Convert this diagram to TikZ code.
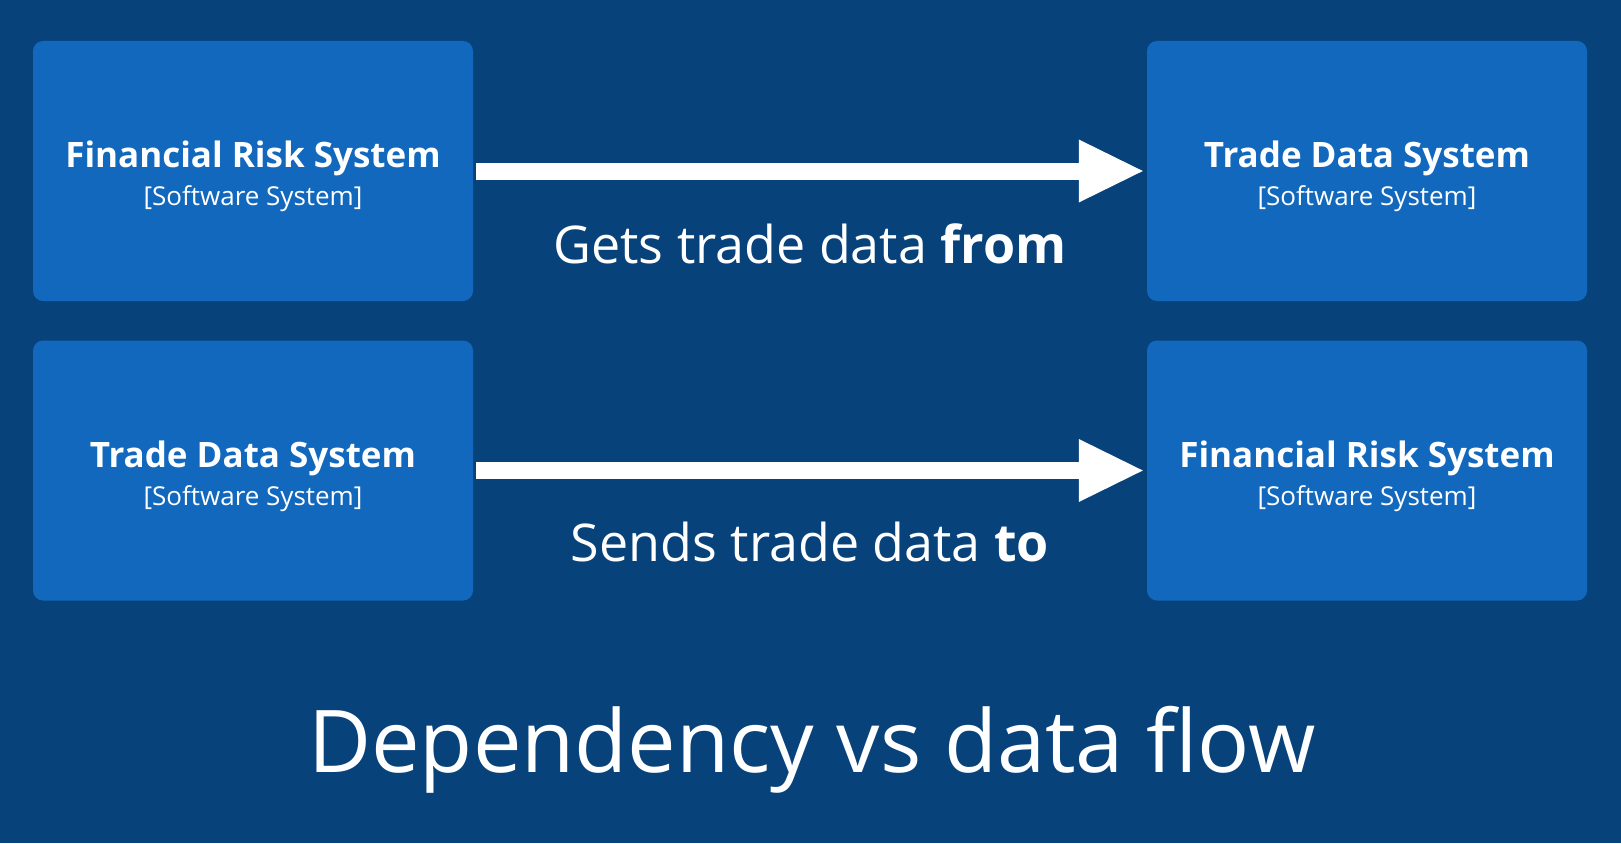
\documentclass[tikz,border=0pt]{standalone}
\usepackage{fontspec}
\setmainfont{Open Sans}
\usetikzlibrary{arrows.meta}
\definecolor{bg}{HTML}{08427B}
\definecolor{sys}{HTML}{1168BD}
\begin{document}
\begin{tikzpicture}[x=1pt,y=-1pt,
  sysbox/.style={rectangle, rounded corners=10pt, fill=sys, minimum width=440pt, minimum height=260pt, inner sep=0pt},
  systitle/.style={text=white, font=\fontsize{35}{42}\selectfont\bfseries, anchor=base, inner sep=0pt},
  systype/.style={text=white, font=\fontsize{26}{31}\selectfont, anchor=base, inner sep=0pt},
  rel/.style={draw=white, line width=17pt, shorten <=3pt, shorten >=4pt, -{Triangle[length=64pt,width=63pt,line width=0pt]}},
  rellabel/.style={text=white, font=\fontsize{52}{60}\selectfont, anchor=base, inner sep=0pt},
  maintitle/.style={text=white, font=\fontsize{86.6}{100}\selectfont, anchor=base, inner sep=0pt},
]
\fill[bg] (0,0) rectangle (1621,843);
\useasboundingbox (0,0) rectangle (1621,843);

% top row
\node[sysbox] (frA) at (253,171) {};
\node[sysbox] (tdA) at (1367,171) {};
\node[systitle] (frAt) at (253,167) {Financial Risk System};
\node[systype] (frAs) at (253,205) {[Software System]};
\node[systitle] (tdAt) at (1367,167) {Trade Data System};
\node[systype] (tdAs) at (1367,205) {[Software System]};
\draw[rel] (frA.east) -- (tdA.west);
\node[rellabel] (lblA) at (810,263) {Gets trade data \textbf{from}};

% bottom row
\node[sysbox] (tdB) at (253,470.5) {};
\node[sysbox] (frB) at (1367,470.5) {};
\node[systitle] (tdBt) at (253,467) {Trade Data System};
\node[systype] (tdBs) at (253,505) {[Software System]};
\node[systitle] (frBt) at (1367,467) {Financial Risk System};
\node[systype] (frBs) at (1367,505) {[Software System]};
\draw[rel] (tdB.east) -- (frB.west);
\node[rellabel] (lblB) at (810,561) {Sends trade data \textbf{to}};

% title
\node[maintitle] (title) at (812,772) {Dependency vs data flow};
\end{tikzpicture}
\end{document}
